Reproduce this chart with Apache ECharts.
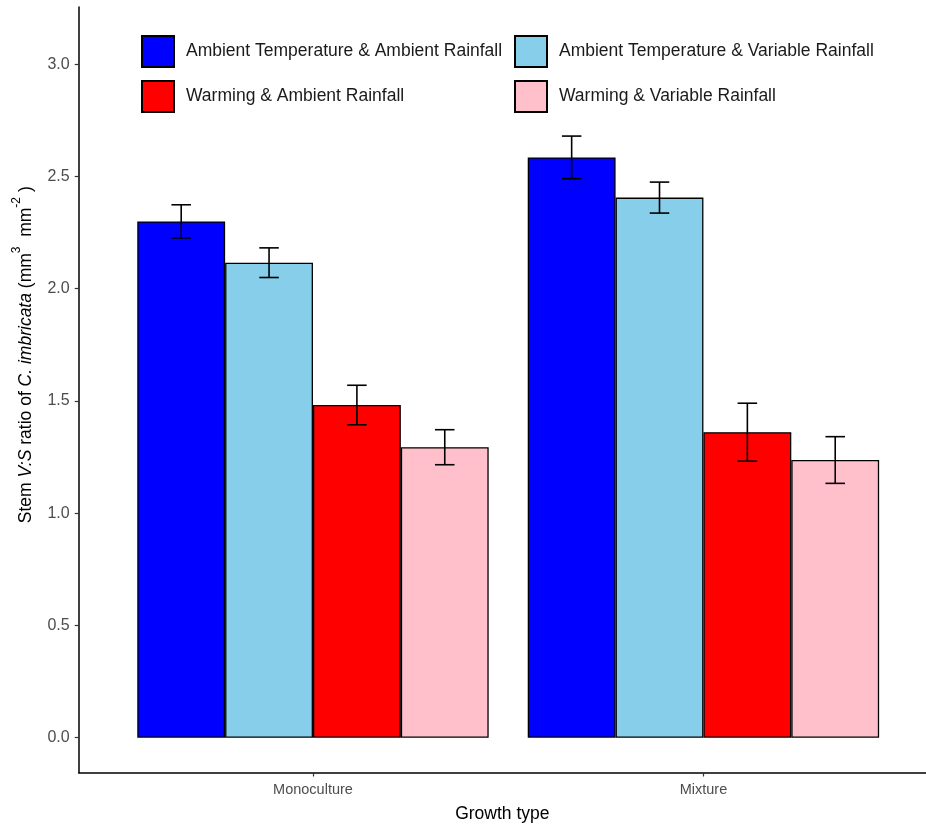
<!DOCTYPE html>
<html>
<head>
<meta charset="utf-8">
<script src="https://cdn.jsdelivr.net/npm/echarts@6/dist/echarts.min.js"></script>
<style>
  html, body { margin: 0; padding: 0; background: #ffffff; }
  #chart { width: 926px; height: 825px; }
</style>
</head>
<body>
<div id="chart"></div>
<script>
// Growth types on the x axis (placed at 1 and 2 on a continuous scale)
const growthTypes = ['Monoculture', 'Mixture'];
const growthPositions = [1, 2];

// Treatments (dodged bars within each growth type)
const treatments = [
  'Ambient Temperature & Ambient Rainfall',
  'Ambient Temperature & Variable Rainfall',
  'Warming & Ambient Rainfall',
  'Warming & Variable Rainfall'
];

// Mean stem V:S ratio per treatment, [Monoculture, Mixture]
const meanAmbTempAmbRain = [2.300, 2.585];
const meanAmbTempVarRain = [2.116, 2.406];
const meanWarmAmbRain    = [1.482, 1.361];
const meanWarmVarRain    = [1.294, 1.237];

// Standard errors, [Monoculture, Mixture]
const seAmbTempAmbRain = [0.074, 0.095];
const seAmbTempVarRain = [0.066, 0.069];
const seWarmAmbRain    = [0.088, 0.129];
const seWarmVarRain    = [0.078, 0.104];

// Y axis tick labels
const yTicks = [0, 0.5, 1.0, 1.5, 2.0, 2.5, 3.0];

const means = [meanAmbTempAmbRain, meanAmbTempVarRain, meanWarmAmbRain, meanWarmVarRain];
const errors = [seAmbTempAmbRain, seAmbTempVarRain, seWarmAmbRain, seWarmVarRain];
const fillColors = ['#0000FF', '#87CEEB', '#FF0000', '#FFC0CB'];

const dodgeWidth = 0.9;                       // total width of a group (x units)
const barUnit = dodgeWidth / treatments.length;
const capHalf = 0.025;                        // half width of error-bar caps (x units)
const fontFamily = 'Liberation Sans, Arial, sans-serif';

const barSeries = treatments.map((name, k) => ({
  name: name,
  type: 'bar',
  barWidth: (barUnit * 100) + '%',
  barGap: '0%',
  itemStyle: { color: fillColors[k], borderColor: '#000000', borderWidth: 1.3 },
  emphasis: { disabled: true },
  data: growthPositions.map((x, i) => [x, means[k][i]]),
  z: 2
}));

const errorSeries = treatments.map((name, k) => ({
  type: 'custom',
  silent: true,
  z: 5,
  data: growthPositions.map((x, i) => [x, means[k][i] - errors[k][i], means[k][i] + errors[k][i]]),
  encode: { x: 0, y: [1, 2] },
  renderItem: function (params, api) {
    const cx = api.value(0) + (k - (treatments.length - 1) / 2) * barUnit;
    const lo = api.value(1), hi = api.value(2);
    const pLo = api.coord([cx, lo]);
    const pHi = api.coord([cx, hi]);
    const pLoL = api.coord([cx - capHalf, lo]);
    const pLoR = api.coord([cx + capHalf, lo]);
    const pHiL = api.coord([cx - capHalf, hi]);
    const pHiR = api.coord([cx + capHalf, hi]);
    const st = { stroke: '#000000', lineWidth: 1.6 };
    return {
      type: 'group',
      children: [
        { type: 'line', shape: { x1: pLo[0], y1: pLo[1], x2: pHi[0], y2: pHi[1] }, style: st },
        { type: 'line', shape: { x1: pLoL[0], y1: pLoL[1], x2: pLoR[0], y2: pLoR[1] }, style: st },
        { type: 'line', shape: { x1: pHiL[0], y1: pHiL[1], x2: pHiR[0], y2: pHiR[1] }, style: st }
      ]
    };
  }
}));

const chart = echarts.init(document.getElementById('chart'), null, { renderer: 'canvas' });

const legendCommon = {
  orient: 'vertical',
  itemWidth: 32,
  itemHeight: 31,
  itemGap: 12,
  selectedMode: false,
  icon: 'rect',
  textStyle: { fontFamily: fontFamily, fontSize: 17.5, color: '#1a1a1a', padding: [0, 0, 0, 7] }
};

chart.setOption({
  animation: false,
  backgroundColor: '#ffffff',
  grid: { left: 78.7, right: 0, top: 7, bottom: 52.5, containLabel: false, outerBoundsMode: 'none' },
  legend: [
    Object.assign({ left: 136, top: 30, data: [treatments[0], treatments[2]] }, legendCommon),
    Object.assign({ left: 509, top: 30, data: [treatments[1], treatments[3]] }, legendCommon)
  ],
  xAxis: {
    type: 'value',
    min: 0.4,
    max: 2.57,
    name: 'Growth type',
    nameLocation: 'middle',
    nameGap: 33,
    nameTextStyle: { fontFamily: fontFamily, fontSize: 17.5, color: '#000000' },
    axisLine: { show: true, onZero: false, lineStyle: { color: '#000000', width: 1.5 } },
    axisTick: { show: true, length: 4, customValues: growthPositions, lineStyle: { color: '#333333', width: 1.2 } },
    axisLabel: {
      customValues: growthPositions,
      margin: 10,
      fontFamily: fontFamily,
      fontSize: 14.5,
      color: '#4D4D4D',
      formatter: v => growthTypes[growthPositions.indexOf(v)] || ''
    },
    splitLine: { show: false }
  },
  yAxis: {
    type: 'value',
    min: -0.155,
    max: 3.255,
    nameLocation: 'middle',
    nameRotate: 90,
    nameGap: 44,
    name: '{n|Stem }{i|V:S}{n| ratio of }{i|C. imbricata}{n| (mm}{s|3}{n|  mm}{s|-2}{n| )}',
    nameTextStyle: {
      padding: [0, 0, 0, 70],
      rich: {
        n: { fontFamily: fontFamily, fontSize: 17.5, color: '#000000', lineHeight: 24, verticalAlign: 'bottom' },
        i: { fontFamily: fontFamily, fontSize: 17.5, fontStyle: 'italic', color: '#000000', lineHeight: 24, verticalAlign: 'bottom' },
        s: { fontFamily: fontFamily, fontSize: 12, color: '#000000', lineHeight: 14, verticalAlign: 'top' }
      }
    },
    axisLine: { show: true, lineStyle: { color: '#000000', width: 1.5 } },
    axisTick: { show: true, length: 4, customValues: yTicks, lineStyle: { color: '#333333', width: 1.2 } },
    axisLabel: {
      customValues: yTicks,
      margin: 9,
      fontFamily: fontFamily,
      fontSize: 16,
      color: '#4D4D4D',
      formatter: v => v.toFixed(1)
    },
    splitLine: { show: false }
  },
  series: barSeries.concat(errorSeries)
});
</script>
</body>
</html>
